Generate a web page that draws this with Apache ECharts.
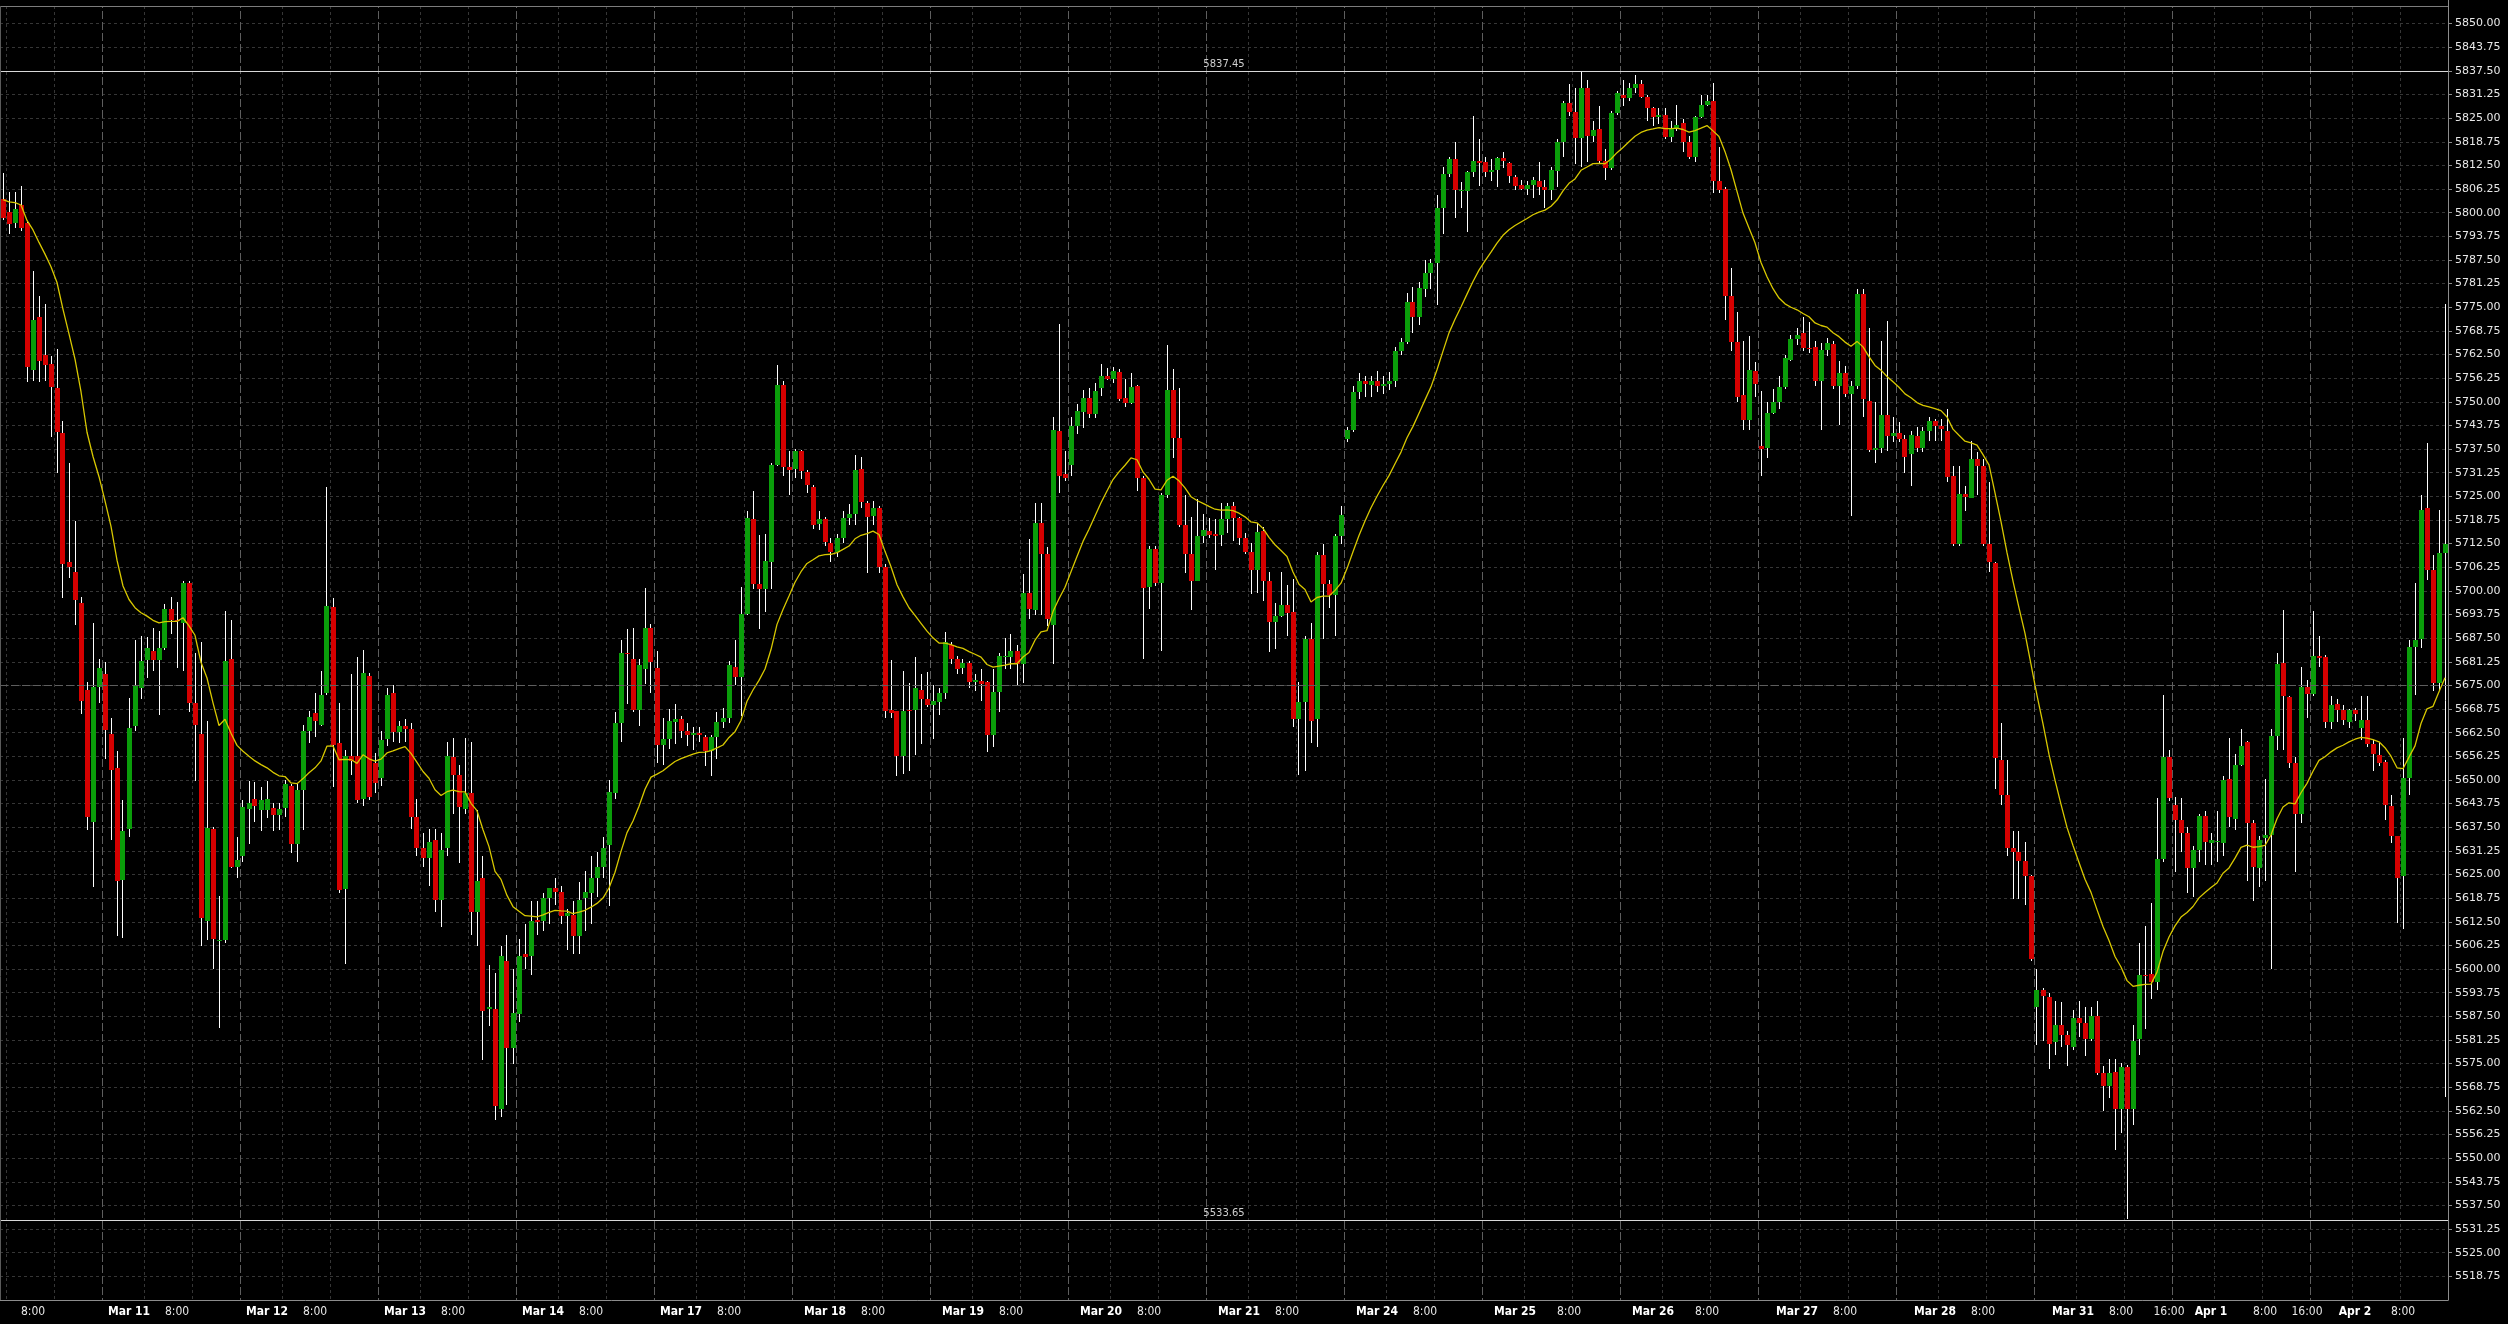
<!DOCTYPE html>
<html>
<head>
<meta charset="utf-8">
<title>Hourly candlestick chart</title>
<style>
html,body{margin:0;padding:0;background:#000;}
#chart{width:2508px;height:1324px;}
</style>
<script src="https://cdn.jsdelivr.net/npm/echarts@6/dist/echarts.min.js"></script>
</head>
<body>
<div id="chart"></div>
<script>
// ================= DATA =================
// Hourly bars, 23 bars per trading day. Each row: [open, high, low, close]
const barsPerDay = 23;
const firstDayStart = 17; // index of first bar of Mar 11 (Mar 10 partially visible)

const mar10 = [
[5803.5,5810.4,5798,5798.5],[5800.2,5805.4,5794.4,5796.9],[5797.3,5805.4,5796,5801],[5802.1,5807.1,5795.2,5796],
[5797.2,5797.5,5755.2,5759.2],[5758.3,5784.5,5755.5,5771.6],[5772.4,5777.9,5755.2,5760.8],[5762.5,5775.9,5755.5,5759.7],
[5760,5762,5740.7,5753.9],[5753.6,5764,5731.2,5742],[5741.8,5745,5698,5707.1],[5707.6,5733.7,5703.5,5706.3],
[5705.1,5718.4,5691.1,5697.7],[5696.9,5698.3,5667.5,5670.9],[5673.9,5676,5636.9,5640.2],[5639,5691.6,5621.7,5674.6],
[5674.6,5682,5670.4,5679.5]
];
const mar11 = [
[5677.9,5681.2,5655.6,5663.3],[5662.2,5666.3,5634.1,5652.6],[5653.1,5657.7,5608.8,5623.3],[5623.6,5644.8,5608.1,5636.5],
[5637,5671.6,5634.9,5663.8],[5664.3,5686.9,5663,5675],[5674.2,5688.1,5671.3,5681.5],[5681.8,5687.8,5677,5684.8],
[5684,5690.3,5678.7,5681.7],[5681.7,5689.4,5667.1,5685],[5685,5696.5,5684.5,5695.2],[5695.2,5698.5,5688.6,5692.4],
[5692.4,5697,5679.5,5692],[5691.6,5702.6,5678.7,5702.1],[5702.1,5702.6,5668,5670.4],[5670.4,5683.6,5649.8,5664.6],
[5662.2,5686.6,5606,5613.4],[5612.6,5665.5,5607.6,5637.4],[5637,5637.5,5599.9,5608],[5607.6,5619.2,5584.5,5607.6],
[5607.6,5694.7,5606.8,5681.5],[5682,5692.4,5626.6,5627.1],[5627,5634.9,5624,5628.8]
];
const mar12 = [
[5630,5644.8,5628.3,5642.8],[5642.4,5649.8,5633.2,5644],[5645.1,5649.4,5639,5643.2],[5642,5648.1,5636.5,5644.8],
[5642,5649.8,5639.9,5645.1],[5642.7,5644,5636.5,5640.7],[5640.7,5644,5636.9,5642.4],[5642.7,5650.1,5640.2,5649],
[5648.5,5649,5630.8,5633.2],[5633.2,5649,5628.3,5647.3],[5647.3,5664.6,5636.9,5663],[5663,5668.3,5659.7,5666.6],
[5667.6,5672.9,5661.3,5665.5],[5664.6,5678.7,5664.3,5672.6],[5672.9,5727.4,5672.5,5696.1],[5695.7,5698,5648.1,5659.2],
[5659.7,5670.4,5620,5620.8],[5621.3,5658,5601.4,5656.4],[5656.4,5677.9,5651.4,5655],[5656.4,5682.5,5644,5644.8],
[5645,5684.5,5643.2,5678.2],[5677.4,5678.2,5644.8,5645.6],[5654.4,5657.2,5646.5,5649.3]
];
const mar13 = [
[5650.6,5663,5648.4,5660.5],[5660.8,5674.2,5659,5672.6],[5672.9,5675,5660,5662.7],[5662.7,5665.5,5659.7,5664.3],
[5664.3,5666,5660,5663.5],[5663.5,5665,5637,5640.3],[5640.3,5645,5630,5631.9],[5631.9,5636,5627,5629.4],
[5629.4,5637,5622,5633.6],[5634.1,5637,5615,5618.4],[5618.4,5636,5611,5631.6],[5631.9,5660,5630,5656.4],
[5656,5661,5641,5651.4],[5651.4,5654,5628,5642.8],[5642.4,5661,5641,5646.5],[5646.5,5660,5609,5615.1],
[5615.1,5642,5606,5623.3],[5624,5630,5576,5589],[5589.5,5601,5585,5589.9],[5589.5,5599,5560,5563.8],
[5563,5606,5561,5603.5],[5602.2,5609,5564,5579.2],[5579.2,5600,5575,5588.3]
];
const mar14 = [
[5588.1,5608,5586,5603.5],[5604,5612,5600,5603.2],[5603.5,5618,5598.5,5612.6],[5613,5618,5609,5612.4],
[5612.7,5620,5610,5618.9],[5618.9,5621,5612,5621.4],[5621.4,5624,5617,5620.5],[5620.5,5622,5612,5614.1],
[5614.1,5616,5605,5614.7],[5614.2,5618,5604,5608.8],[5608.8,5623,5604,5618.4],[5618.7,5626,5610,5620.4],
[5620,5630,5612,5624.1],[5624.1,5631,5619,5626.9],[5626.9,5635,5624,5632.1],[5632.7,5650,5616.7,5646.8],
[5646.5,5668,5645,5665.1],[5665.1,5687,5660,5683.6],[5683.6,5690,5670,5683.2],[5682.1,5690.3,5668,5668.4],
[5668.6,5682,5664.4,5680.3],[5679.3,5700.8,5675.3,5690.2],[5690.2,5691.3,5673,5681.1]
];
const mar17 = [
[5679.6,5684,5654.5,5659.2],[5659.2,5666.5,5654,5660.9],[5660.9,5668.7,5658.3,5665.7],[5665.4,5670,5659.5,5666.1],
[5666.2,5667,5661,5663],[5663,5665,5659,5662],[5662,5664,5658,5662.5],[5662.5,5664,5660,5661.8],
[5661.5,5662,5653.8,5657.7],[5657.7,5662,5651,5661.5],[5661.5,5668,5655.5,5665.4],[5665.4,5669,5663.7,5666.5],
[5666.5,5681.4,5665,5680.3],[5680,5687,5675,5677.2],[5677.2,5701,5667,5693.9],[5693.9,5721,5693.5,5719.2],
[5718.9,5726.3,5700.5,5701.9],[5701.9,5714.7,5689.9,5700.5],[5700.5,5715.1,5694.4,5707.9],[5707.6,5733.8,5700.5,5733.4],
[5733.4,5759.7,5733,5754.4],[5754.4,5755.5,5730.3,5732.8],[5732.7,5737,5725.3,5732]
];
const mar18 = [
[5732.2,5737.6,5729.8,5737],[5736.9,5737.3,5729.6,5731.7],[5731.4,5732,5726,5727.9],[5727.4,5728.1,5716.4,5717.5],
[5717.8,5721,5716,5719],[5719,5719.6,5711.8,5713],[5712.6,5714,5707.6,5710.4],[5710.2,5715,5709,5714],
[5714,5721,5712.6,5719.2],[5719.2,5723,5717.5,5720.4],[5720.4,5736,5717.5,5732],[5732.3,5735.4,5721.8,5723.5],
[5723.2,5723.9,5704.8,5719.6],[5719.9,5723.9,5717.5,5722],[5722,5722.5,5704.8,5706.2],[5706.2,5707,5666.5,5668.2],
[5668.5,5681.7,5666.5,5667.7],[5668.2,5668.2,5651,5656.3],[5656.3,5678.9,5651.7,5668.2],[5668.6,5675.7,5652.4,5668.2],
[5668.5,5682.4,5656.6,5674.3],[5673.9,5677.9,5659.5,5671.5],[5671.5,5678.6,5669.3,5669.7]
];
const mar19 = [
[5669.7,5675,5660.9,5670.8],[5670.5,5674.3,5667.2,5672.9],[5672.9,5689.2,5671.5,5686.4],[5685.7,5686.4,5680.7,5682.1],
[5682.1,5682.8,5677.9,5679.3],[5679.6,5682,5677.9,5681],[5681,5681.4,5674.3,5676],[5675.9,5677.9,5673.6,5676.5],
[5676.3,5679.3,5670.8,5675.3],[5676,5676.2,5657.3,5662],[5662,5679.3,5658.7,5673.2],[5673.2,5683.5,5667.9,5682.8],
[5682.8,5687.5,5679.3,5682.8],[5682.5,5688.5,5679.3,5684.2],[5684.2,5685.7,5675,5680.7],[5680.7,5704.5,5675.7,5699.4],
[5699.4,5713.6,5692.7,5695.1],[5694.9,5723.2,5693.5,5717.9],[5717.9,5723.2,5693.5,5709.7],[5709.7,5711.6,5690.6,5692.7],
[5690.9,5746.1,5680.7,5742.6],[5742.3,5770.6,5726,5730.3],[5731,5737,5729.1,5729.8]
];
const mar20 = [
[5733.4,5745.9,5730.3,5743.7],[5743.7,5749.4,5741.6,5747.5],[5747.3,5753,5743,5751.1],[5751.1,5753.6,5745.8,5746.8],
[5746.8,5755,5745.8,5752.9],[5753.6,5760,5751.5,5756.8],[5756.8,5758.9,5755.8,5756],[5756,5759.3,5755,5758.2],
[5757.9,5758.6,5750.1,5750.8],[5751,5756,5748.7,5749.8],[5749.8,5757.5,5749.4,5753.9],[5754.1,5754.4,5726.3,5729.8],
[5729.8,5730.3,5682.1,5700.8],[5701,5711.8,5695.1,5711.1],[5711.1,5711.8,5701.2,5702],[5702,5726,5684.2,5725.3],
[5725.3,5765,5724.6,5753.2],[5753.2,5758.6,5735.2,5740.4],[5740.4,5753.6,5716.8,5717.5],[5717.3,5725.3,5704.8,5709.7],
[5709.7,5719.6,5694.9,5702.6],[5702.6,5724.3,5702.6,5714.4],[5714.4,5720.4,5712.6,5716.1]
];
const mar21 = [
[5715.8,5719.2,5714,5714.7],[5715.1,5719,5705.5,5714.4],[5714.7,5723.2,5711.9,5718.9],[5718.9,5723.2,5715.4,5722.5],
[5722.5,5723.5,5713.3,5719.2],[5719.2,5719.6,5712.1,5714],[5714,5715.4,5709.7,5710.4],[5710.4,5712.6,5699.1,5705.5],
[5705.5,5717.9,5699.5,5715.7],[5715.9,5717,5697.4,5702.6],[5702.6,5704.9,5683.9,5691.8],[5691.8,5696.8,5684.6,5693.4],
[5693.4,5704.9,5693,5696.3],[5696.3,5701.5,5688,5694.1],[5694.3,5703.1,5664,5666.1],[5666.1,5675.9,5651.3,5670.7],
[5670.7,5688,5652.5,5687.3],[5687.3,5691.4,5659.7,5665.7],[5666.1,5710.2,5658.6,5709.6],[5709.6,5712.3,5687.3,5701.8],
[5701.8,5702.8,5695.4,5698.8],[5698.8,5715,5688,5714.6],[5714.6,5722.4,5712.3,5720.1]
];
const mar24 = [
[5740.3,5743.3,5739.5,5742.6],[5742.6,5754.1,5742,5752.5],[5752.5,5757.5,5750.7,5755.4],[5755.4,5756.8,5751.4,5754.8],
[5754.5,5756.8,5751.4,5755.4],[5755.4,5758.1,5752.7,5754.1],[5754.1,5756.8,5752,5754.8],[5754.8,5758,5753,5755.4],
[5755.4,5764.6,5754,5763.5],[5763.5,5766.9,5762.5,5765.8],[5765.8,5778.7,5765.2,5776.4],[5776.4,5780.4,5768.3,5772.3],
[5772.3,5781.8,5770.3,5780],[5779.7,5787.5,5777.7,5784],[5784,5787.8,5779.7,5786.7],[5786.7,5804.7,5775.7,5801.3],
[5801.3,5812.1,5794.3,5810.3],[5810.3,5814.8,5809.4,5814.1],[5814.1,5818.8,5798.6,5806],[5806,5808,5801.2,5806],
[5805.8,5811,5795,5810.7],[5810.7,5825.6,5809.4,5813.7],[5813.7,5819.5,5807,5813.2]
];
const mar25 = [
[5813.4,5814.8,5809.4,5810.7],[5810.7,5814.1,5808.3,5811.4],[5811.4,5814.8,5806.7,5814.4],[5814.4,5816.1,5811.8,5813.7],
[5813.2,5813.5,5807.8,5809.8],[5809.4,5810.1,5806,5807],[5807.4,5808.7,5806,5806.4],[5806.4,5808.3,5804.7,5807.4],
[5807.4,5809.4,5804,5808.7],[5808.3,5813.5,5804.7,5806.7],[5806.7,5808.7,5801.3,5806],[5806,5812.1,5803.3,5811.4],
[5811.1,5819.5,5806.7,5818.8],[5818.8,5829.6,5814.8,5829],[5829,5834,5825.6,5826.7],[5826.7,5833,5812.8,5819.8],
[5819.8,5837.5,5812.1,5833],[5833,5835,5813.5,5820.2],[5820.2,5824.2,5818.8,5821.8],[5822.2,5828.3,5812.8,5813.7],
[5813.7,5816.8,5808.7,5811.8],[5811.8,5826.9,5811.4,5826.3],[5826.3,5832.3,5825.9,5831.7]
];
const mar26 = [
[5831,5835,5828.3,5830.3],[5830.3,5834.4,5829.6,5833],[5833,5836.4,5831.7,5834.1],[5834.1,5835,5830.3,5830.7],
[5830.7,5831,5824.2,5827.6],[5827.6,5828,5822.9,5825.3],[5825.3,5827.6,5823.5,5825.9],[5825.9,5827.6,5819.5,5819.9],
[5819.9,5824.2,5818.8,5822.2],[5822.2,5828.6,5821.5,5823.2],[5823.6,5824.9,5816.1,5818.8],[5818.8,5820.2,5814.1,5814.8],
[5814.8,5825.6,5813.5,5825.3],[5825.3,5831,5825,5828.6],[5828.6,5831,5828.3,5829.6],[5829.6,5834.4,5805.3,5808.3],
[5808.3,5817.5,5805.3,5806],[5806.4,5806.7,5771.6,5778.1],[5778.1,5785.4,5763.5,5765.9],[5765.9,5773.7,5750,5751.4],
[5751.7,5766.2,5742.6,5745.3],[5745.3,5767.3,5742.6,5758.4],[5758.1,5760.6,5751.4,5754.8]
];
const mar27 = [
[5738.2,5752.8,5730.5,5737.6],[5737.9,5750,5735.2,5747.1],[5747.1,5753.4,5746.7,5750],[5750,5756.8,5748,5753.8],
[5753.8,5762.5,5753.4,5761.5],[5761.1,5767.6,5760.9,5766.5],[5766.5,5769.6,5764.9,5767.8],[5768.2,5772.3,5763.5,5764.2],
[5764.2,5771,5763,5764.1],[5764.6,5766.2,5754.1,5755.4],[5755.4,5765.6,5742.6,5763.8],[5763.8,5766.9,5762.2,5765.6],
[5765.2,5766.2,5753.4,5754.1],[5754.1,5760.8,5744,5757.5],[5757.5,5759.5,5751.4,5752.1],[5752.1,5755.4,5719.7,5754.1],
[5754.1,5779.7,5753.4,5778.4],[5778.6,5779.7,5746,5750.7],[5750.3,5769.6,5736.6,5737.2],[5737.2,5750,5733.8,5737.8],
[5737.8,5766,5736.5,5746.4],[5746.4,5771.3,5737.1,5741],[5741,5746,5739.3,5741.8]
];
const mar28 = [
[5741.8,5744.7,5739.3,5740.1],[5740.1,5741.3,5731.2,5735.4],[5736.3,5742.2,5727.8,5741.3],[5741,5743.4,5736.6,5737.9],
[5737.9,5743.4,5736.6,5742.2],[5742.2,5746,5739.6,5745],[5745,5745.5,5739.6,5743.5],[5743.7,5745.5,5739.6,5742.7],
[5742.2,5748.1,5728.7,5730],[5730.4,5732.9,5711.8,5712.3],[5712.3,5732.9,5711.8,5725.6],[5725.6,5727.8,5721.1,5724.8],
[5724.5,5739.6,5724.5,5734.9],[5734.9,5736.6,5725.3,5732.9],[5732.9,5734.9,5711.8,5712.3],[5712.3,5728.7,5705,5707.6],
[5707.3,5707.6,5647.7,5655.7],[5655.3,5665.1,5643.5,5646],[5646,5655.3,5630,5632],[5632,5636.4,5618.6,5630.9],
[5630.9,5636.4,5618.6,5628.7],[5628.7,5633.7,5616.9,5624.6],[5624.6,5625,5602.2,5602.7]
];
const mar31 = [
[5589.9,5600,5579.8,5594.6],[5594.6,5594.9,5581.1,5592.9],[5592.6,5593.8,5573.5,5580.3],[5580.8,5591.6,5577.4,5585.3],
[5585.3,5591.2,5579.4,5582.5],[5582.5,5583.7,5574.4,5579.8],[5579.4,5589.2,5578.6,5587],[5587,5591.6,5582,5585.8],
[5585.8,5589.9,5577,5581.4],[5581.4,5589.9,5581.1,5587.5],[5587.5,5591.6,5571.9,5572.4],[5572.4,5574.4,5562.6,5569],
[5569,5576.1,5566,5572.4],[5572.7,5576.1,5552.1,5562.9],[5562.9,5575.2,5556.7,5574.1],[5574.1,5574.7,5533.9,5562.9],
[5562.9,5585.3,5558.9,5581.1],[5581.4,5606.8,5577.4,5598.5],[5598.5,5611.5,5584.2,5598.2],[5598.8,5617.4,5592.1,5596.6],
[5596.6,5645.2,5594.6,5629.2],[5629.2,5672.5,5628.3,5656.2],[5656.2,5657.9,5644.4,5645.2]
];
const apr1 = [
[5643.5,5645.5,5625.8,5639.3],[5639.3,5645.2,5631,5636],[5636,5637.6,5620.2,5626.6],[5626.6,5632.6,5619.1,5631.4],
[5631.4,5641,5628.4,5640.5],[5640.5,5641.8,5627.5,5633.7],[5633.4,5636,5627.5,5634.2],[5633.7,5641.8,5628.3,5634],
[5633.4,5651.1,5630,5649.9],[5650.3,5661.2,5637.6,5640.1],[5639.8,5657,5636.8,5654],[5654,5663.4,5653.6,5659],
[5660,5660.4,5623.3,5638.5],[5638.5,5639.3,5617.9,5627],[5626.6,5635.1,5621.6,5634.2],[5634.7,5650.3,5623.3,5635.4],
[5635.4,5663.4,5600,5661.7],[5661.7,5683.7,5657.9,5680.6],[5680.9,5695,5657.9,5672.2],[5671.9,5672.2,5653.3,5654.5],
[5654.5,5656.2,5625.8,5641],[5641,5679.8,5638.5,5674.7],[5674.7,5676.4,5666.3,5672.7]
];
const apr2 = [
[5672.7,5694.6,5672.2,5682.8],[5682.8,5688.2,5679.8,5682.3],[5682.6,5683.1,5663.7,5665.4],[5665.4,5672.2,5663.4,5669.7],
[5670.2,5671.3,5665.4,5668.5],[5668.5,5669.7,5664.6,5665.8],[5665.4,5668.8,5663.7,5668.5],[5668.5,5669,5665.5,5667.5],
[5663.7,5672.2,5660.7,5665.8],[5665.8,5672.2,5658.7,5659.5],[5659.5,5660.7,5652.3,5657],[5656.7,5660,5653.6,5654.5],
[5654.8,5655.3,5639.3,5643.5],[5643,5646,5633.4,5635.1],[5635.1,5635.1,5612.3,5624.1],[5624.6,5661.2,5610.6,5650.6],
[5650.6,5687,5646,5685.3],[5685.3,5702.2,5672.5,5687],[5687.4,5725.3,5684.8,5721.4],[5721.9,5739.1,5702.9,5705.6],
[5705.6,5709.6,5673.5,5675.6],[5675.6,5721.4,5673.9,5710.1],[5710.1,5775.9,5566.3,5712.3]
];

// Time-axis tick labels: bar index -> text
const tickBars  = [5,21,29,44,52,67,75,90,98,113,121,137,145,160,168,183,191,206,214,229,237,252,261,275,284,299,307,322,330,345,353,361,368,377,384,392,400];
const tickTexts = ['8:00','Mar 11','8:00','Mar 12','8:00','Mar 13','8:00','Mar 14','8:00','Mar 17','8:00',
                   'Mar 18','8:00','Mar 19','8:00','Mar 20','8:00','Mar 21','8:00',
                   'Mar 24','8:00','Mar 25','8:00','Mar 26','8:00','Mar 27','8:00',
                   'Mar 28','8:00','Mar 31','8:00','16:00','Apr 1','8:00','16:00','Apr 2','8:00'];

// Horizontal price levels
const levelHigh = 5837.45;
const levelLow = 5533.65;
const levelDashed = 5675.00;

// Moving average settings (EMA)
const maPeriod = 20;
const maSeed = 5804;

// Price axis
const yMin = 5512.5, yMax = 5856.25, yStep = 6.25;

// ================= BUILD =================
const candles = [].concat(mar10, mar11, mar12, mar13, mar14, mar17, mar18, mar19, mar20, mar21,
                          mar24, mar25, mar26, mar27, mar28, mar31, apr1, apr2);
const cats = candles.map((_, i) => String(i));
const closes = candles.map(d => d[3]);
const kMa = 2 / (maPeriod + 1);
let ema = maSeed;
const maData = closes.map(c => { ema = ema + kMa * (c - ema); return +ema.toFixed(2); });

const labelAt = {};
tickBars.forEach((b, j) => { labelAt[b] = tickTexts[j]; });
function dayPos(i) { return ((i - firstDayStart) % barsPerDay + barsPerDay) % barsPerDay; }

const BULL = '#0a9d0a', BEAR = '#d50000';
const FONT = 'DejaVu Sans';
const FONT_C = "'DejaVu Sans Condensed', 'DejaVu Sans', sans-serif";

const chart = echarts.init(document.getElementById('chart'), null, {renderer: 'canvas', width: 2508, height: 1324});

const levelLabel = {
  show: true, position: 'insideMiddleTop', distance: 2,
  formatter: p => Number(p.value).toFixed(2),
  color: '#cfcfcf', fontSize: 10, fontFamily: FONT
};

const option = {
  backgroundColor: '#000000',
  animation: false,
  grid: {left: 0, top: 0, width: 2448, height: 1300, containLabel: false},
  xAxis: [
    {
      type: 'category', data: cats, boundaryGap: true,
      axisLine: {show: true, lineStyle: {color: '#8c8c8c', width: 1}},
      axisTick: {show: false},
      axisLabel: {
        show: true, margin: 5,
        interval: (i) => labelAt[i] !== undefined,
        formatter: (v, i) => {
          const t = labelAt[i];
          if (t === undefined) return '';
          return /^[A-Z]/.test(t) ? '{d|' + t + '}' : '{t|' + t + '}';
        },
        rich: {
          d: {fontFamily: FONT_C, fontWeight: 'bold', fontSize: 12, color: '#ffffff', lineHeight: 14},
          t: {fontFamily: FONT_C, fontSize: 12, color: '#e6e6e6', lineHeight: 14}
        }
      },
      splitLine: {
        show: true,
        interval: (i) => { const r = dayPos(i); return r === 7 || r === 15; },
        lineStyle: {color: '#363636', type: [3, 3], width: 1}
      }
    },
    {
      type: 'category', data: cats, boundaryGap: true, position: 'bottom',
      axisLine: {show: false}, axisTick: {show: false}, axisLabel: {show: false},
      splitLine: {
        show: true,
        interval: (i) => dayPos(i) === 0,
        lineStyle: {color: '#5e5e5e', type: [8, 3], width: 1}
      }
    }
  ],
  yAxis: {
    type: 'value', position: 'right', min: yMin, max: yMax, interval: yStep, scale: false,
    axisLine: {show: true, lineStyle: {color: '#8c8c8c', width: 1}},
    axisTick: {show: true, length: 4, lineStyle: {color: '#8c8c8c'}},
    axisLabel: {
      show: true, margin: 7, color: '#e8e8e8', fontSize: 11, fontFamily: FONT,
      formatter: v => v.toFixed(2), showMinLabel: false, showMaxLabel: false
    },
    splitLine: {show: true, lineStyle: {color: '#363636', type: [3, 3], width: 1}}
  },
  series: [
    {
      name: 'Price', type: 'custom', xAxisIndex: 0, yAxisIndex: 0, clip: true, z: 2,
      data: candles.map((d, i) => [i, d[0], d[1], d[2], d[3]]),
      encode: {x: 0, y: [1, 2, 3, 4]},
      renderItem: function (params, api) {
        const i = api.value(0);
        const o = api.value(1), h = api.value(2), l = api.value(3), c = api.value(4);
        const pO = api.coord([i, o]), pC = api.coord([i, c]);
        const pH = api.coord([i, h]), pL = api.coord([i, l]);
        const band = api.size([1, 0])[0];
        const bw = Math.max(1, Math.round(band * 5 / 6));
        const px = Math.floor(pO[0]);
        const left = px - Math.floor(bw / 2);
        let top = Math.round(Math.min(pO[1], pC[1]));
        let bot = Math.round(Math.max(pO[1], pC[1]));
        if (bot - top < 1) bot = top + 1;
        return {
          type: 'group',
          children: [
            {type: 'line', shape: {x1: px + 0.5, y1: Math.round(pH[1]), x2: px + 0.5, y2: Math.round(pL[1])},
             style: {stroke: '#ffffff', lineWidth: 1}},
            {type: 'rect', shape: {x: left, y: top, width: bw, height: bot - top},
             style: {fill: c >= o ? BULL : BEAR}}
          ]
        };
      }
    },
    {
      name: 'EMA', type: 'line', xAxisIndex: 0, yAxisIndex: 0, data: maData,
      symbol: 'none', showSymbol: false, smooth: false, z: 3,
      lineStyle: {color: '#d8c800', width: 1.3},
      markLine: {
        silent: true, symbol: ['none', 'none'], animation: false,
        data: [
          {yAxis: levelHigh, lineStyle: {color: '#d8d8d8', type: 'solid', width: 1}, label: levelLabel},
          {yAxis: levelLow, lineStyle: {color: '#d8d8d8', type: 'solid', width: 1}, label: levelLabel},
          {yAxis: levelDashed, lineStyle: {color: '#5e5e5e', type: [8, 3], width: 1}, label: {show: false}}
        ]
      }
    }
  ],
  graphic: [
    {type: 'rect', silent: true, z: 100, shape: {x: 0, y: 0, width: 2448, height: 6}, style: {fill: '#000000'}},
    {type: 'line', silent: true, z: 101, shape: {x1: 0, y1: 6.5, x2: 2448, y2: 6.5}, style: {stroke: '#7c7c7c', lineWidth: 1}},
    {type: 'line', silent: true, z: 101, shape: {x1: 0.5, y1: 6, x2: 0.5, y2: 1300}, style: {stroke: '#5a5a5a', lineWidth: 1}}
  ]
};
chart.setOption(option);
</script>
</body>
</html>
